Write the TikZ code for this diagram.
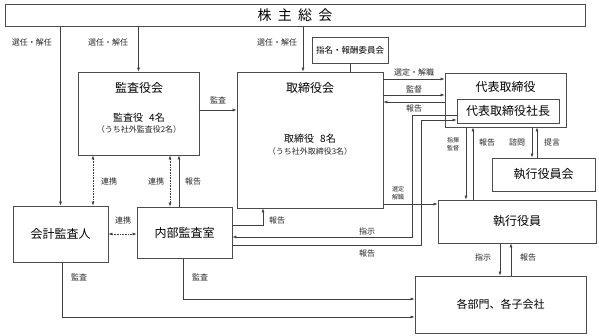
\documentclass[tikz,border=0pt]{standalone}
\usepackage{fontspec}
\setmainfont{Noto Sans CJK JP}
\usepackage{tikz}
\usetikzlibrary{positioning,arrows.meta}

\begin{document}
\begin{tikzpicture}[x=1pt,y=-1pt,
    box/.style={draw=black!70, line width=0.7pt, fill=white, inner sep=0pt},
    ttl/.style={font=\fontsize{12}{14}\selectfont},
    num/.style={font=\fontsize{10}{12}\selectfont},
    lbl/.style={font=\fontsize{8}{9}\selectfont, text=black!85},
    tiny/.style={font=\fontsize{6}{8.5}\selectfont, align=center, text=black!85},
    ln/.style={draw=black!75, line width=0.6pt},
    edg/.style={ln, -{Latex[length=4pt,width=3pt]}},
    coop/.style={ln, densely dotted,
                 {Latex[length=4pt,width=3pt]}-{Latex[length=4pt,width=3pt]}}]
  \useasboundingbox (0,0) rectangle (599,336);
  % shareholders (top)
  \node[box, minimum width=580pt, minimum height=22pt,
        font=\fontsize{14}{16}\selectfont] (kabu) at (295,15)
        {株\hspace{0.45em}主\hspace{0.45em}総\hspace{0.45em}会};
  % boards
  \node[box, minimum width=121pt, minimum height=83pt] (kansa) at (138.5,113.5) {};
  \node[ttl] (kansa-t) at (139,88) {監査役会};
  \node[num] (kansa-n) at (139,118) {監査役\hspace{0.6em}4名};
  \node[lbl] (kansa-s) at (139,129) {（うち社外監査役2名）};
  \node[box, minimum width=146pt, minimum height=136pt] (tori) at (310,140) {};
  \node[ttl] (tori-t) at (310,88) {取締役会};
  \node[num] (tori-n) at (310,139) {取締役\hspace{0.6em}8名};
  \node[lbl] (tori-s) at (310,151) {（うち社外取締役3名）};
  \node[box, minimum width=76pt, minimum height=26pt,
        font=\fontsize{8.5}{10}\selectfont] (shimei) at (350,50) {指名・報酬委員会};
  % executive side (right)
  \node[box, minimum width=121pt, minimum height=54pt] (daihyo) at (505.5,100) {};
  \node[ttl] (daihyo-t) at (505.5,87) {代表取締役};
  \node[box, ttl, minimum width=102pt, minimum height=24pt] (shacho) at (508,111) {代表取締役社長};
  \node[box, ttl, minimum width=103pt, minimum height=33pt] (kaigi) at (543.5,174.5) {執行役員会};
  \node[box, ttl, minimum width=158pt, minimum height=43pt] (shikko) at (517,221.5) {執行役員};
  \node[box, minimum width=171pt, minimum height=57pt,
        font=\fontsize{11}{13}\selectfont] (bumon) at (500.5,304.5) {各部門、各子会社};
  % audit side (left)
  \node[box, ttl, minimum width=95pt, minimum height=56pt] (kaikei) at (60.5,234) {会計監査人};
  \node[box, ttl, minimum width=95pt, minimum height=51pt] (naibu) at (184.5,232.5) {内部監査室};

  % appointment from shareholders
  \draw[edg] (kaikei.north |- kabu.south) -- (kaikei.north);
  \draw[edg] (kansa.north |- kabu.south) -- (kansa.north);
  \draw[edg] ([xshift=-7pt]tori.north |- kabu.south) -- ([xshift=-7pt]tori.north);
  \draw[ln] (shimei.south) -- (shimei.south |- tori.north);
  % board to representative
  \draw[edg] ([yshift=3.5pt]kansa.east) -- ([yshift=3.5pt]kansa.east -| tori.west);
  \draw[edg] ([yshift=21pt]daihyo.west -| tori.east) -- ([yshift=21pt]daihyo.west);
  \draw[edg] ([yshift=5pt]daihyo.west -| tori.east) -- ([yshift=5pt]daihyo.west);
  \draw[edg] ([yshift=-2pt]daihyo.west) -- ([yshift=-2pt]daihyo.west -| tori.east);
  \draw[edg] ([yshift=17.5pt]shikko.west -| tori.east) -- ([yshift=17.5pt]shikko.west);
  % president and internal audit
  \draw[edg] ([yshift=-4pt]shacho.west) -- ++(-44,0) |- ([yshift=-4.5pt]naibu.east);
  \draw[edg] ([yshift=-12.5pt]naibu.east) -| ([xshift=-35pt,yshift=-9pt]shacho.west)
             -- ([yshift=-9pt]shacho.west);
  \draw[edg] ([yshift=7.5pt]naibu.east) -| ([xshift=-47pt]tori.south);
  % representative and executives
  \draw[edg] ([xshift=-39.5pt]daihyo.south) -- ([xshift=-39.5pt]daihyo.south |- shikko.north);
  \draw[edg] ([xshift=-32.5pt]daihyo.south |- shikko.north) -- ([xshift=-32.5pt]daihyo.south);
  \draw[edg] ([xshift=26.5pt]daihyo.south) -- ([xshift=26.5pt]daihyo.south |- kaigi.north);
  \draw[edg] ([xshift=31.5pt]daihyo.south |- kaigi.north) -- ([xshift=31.5pt]daihyo.south);
  \draw[edg] ([xshift=-17pt]shikko.south) -- ([xshift=-17pt]shikko.south |- bumon.north);
  \draw[edg] ([xshift=-6pt]shikko.south |- bumon.north) -- ([xshift=-6pt]shikko.south);
  % auditors
  \draw[coop] ([xshift=-45.5pt]kansa.south) -- ([xshift=-45.5pt]kansa.south |- kaikei.north);
  \draw[coop] ([xshift=31.5pt]kansa.south) -- ([xshift=31.5pt]kansa.south |- naibu.north);
  \draw[edg] ([xshift=40.5pt]kansa.south |- naibu.north) -- ([xshift=40.5pt]kansa.south);
  \draw[coop] (kaikei.east) -- (kaikei.east -| naibu.west);
  \draw[edg] ([xshift=1.5pt]kaikei.south) |- ([yshift=-12.5pt]bumon.west);
  \draw[edg] ([xshift=-1.5pt]naibu.south) |- ([yshift=5.5pt]bumon.west);

  % connector labels
  \node[lbl] (l-sn1) at (32,42) {選任・解任};
  \node[lbl] (l-sn2) at (108,42) {選任・解任};
  \node[lbl] (l-sn3) at (277,42) {選任・解任};
  \node[lbl] (l-ks1) at (218,100) {監査};
  \node[lbl] (l-sk1) at (414,72) {選定・解職};
  \node[lbl] (l-kt1) at (414,89) {監督};
  \node[lbl] (l-hk1) at (414,108) {報告};
  \node[tiny] (l-sk2) at (398,193) {選定\\解職};
  \node[lbl] (l-sj1) at (367,231) {指示};
  \node[lbl] (l-hk2) at (367,253) {報告};
  \node[lbl] (l-hk3) at (277,220) {報告};
  \node[tiny] (l-sk3) at (453,144) {指揮\\監督};
  \node[lbl] (l-hk4) at (487,142) {報告};
  \node[lbl] (l-sm1) at (517,142) {諮問};
  \node[lbl] (l-tg1) at (552,142) {提言};
  \node[lbl] (l-sj2) at (483,257) {指示};
  \node[lbl] (l-hk5) at (528,257) {報告};
  \node[lbl] (l-rk1) at (109,181) {連携};
  \node[lbl] (l-rk2) at (156,181) {連携};
  \node[lbl] (l-hk6) at (193,181) {報告};
  \node[lbl] (l-rk3) at (123,220) {連携};
  \node[lbl] (l-ks2) at (79,277) {監査};
  \node[lbl] (l-ks3) at (200,277) {監査};
\end{tikzpicture}
\end{document}
